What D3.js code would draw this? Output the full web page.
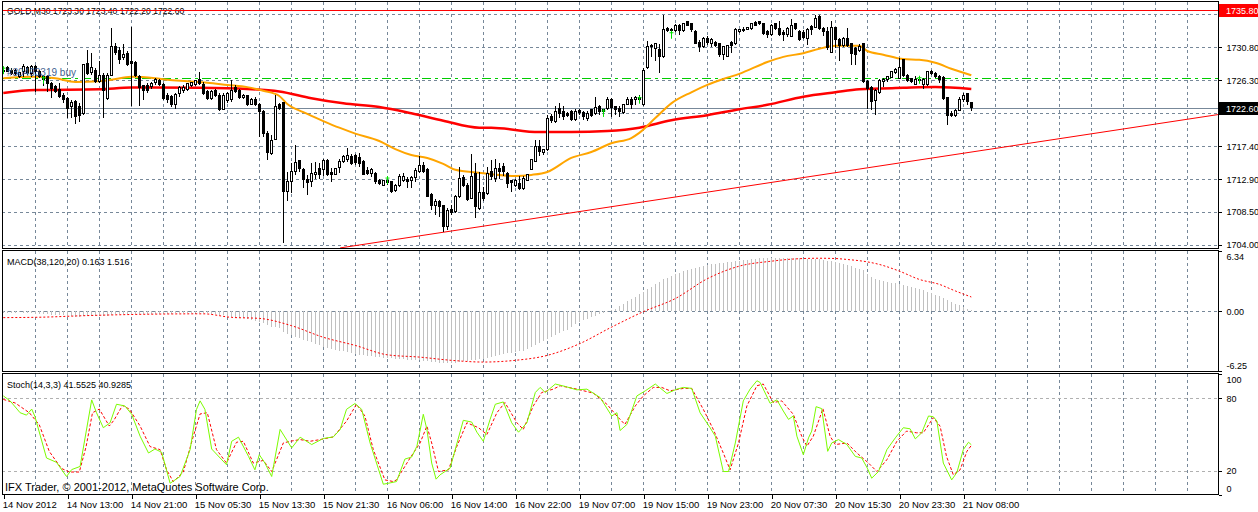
<!DOCTYPE html>
<html>
<meta charset="utf-8">
<style>
  body { margin: 0; background: #fff; }
  svg { display: block; }
  text { font-family: "Liberation Sans", Arial, sans-serif; font-size: 9.5px; fill: #000; }
  .grid { stroke: #778899; stroke-dasharray: 3,3; shape-rendering: crispEdges; }
  .level { stroke: #b0b0b0; stroke-dasharray: 3,3; shape-rendering: crispEdges; }
  .frame { fill: none; stroke: #000; shape-rendering: crispEdges; }
  .axis path.domain { display: none; }
  .axis line { stroke: #000; shape-rendering: crispEdges; }
  .axis text { font-size: 9px; }
</style>

<body>
  <script src="https://d3js.org/d3.v7.min.js"></script>

  <script>
    // ---- data (bar index 0 = 14 Nov 05:00, M30 bars) ----
    let ohlc = [
      [1727.6,1727.9,1727.3,1727.7],[1728.0,1728.2,1727.4,1727.5],[1727.7,1728.0,1727.1,1727.3],[1727.6,1727.9,1727.0,1727.2],
      [1726.9,1727.5,1726.7,1727.4],[1727.5,1728.6,1726.8,1728.2],[1728.0,1728.3,1727.1,1727.3],[1727.3,1728.4,1726.8,1728.2],
      [1728.2,1728.4,1724.8,1727.5],[1727.5,1727.7,1726.6,1726.8],[1726.8,1727.0,1725.6,1726.5],[1726.8,1727.0,1724.8,1725.9],
      [1725.9,1726.1,1723.9,1725.2],[1725.5,1725.7,1724.6,1724.8],[1725.1,1725.9,1723.9,1724.1],[1724.3,1724.6,1723.2,1723.7],
      [1723.9,1724.1,1721.2,1722.5],[1722.8,1723.7,1721.2,1723.3],[1723.4,1723.7,1720.4,1721.4],[1722.8,1723.2,1720.7,1721.6],
      [1721.8,1728.6,1721.6,1728.4],[1728.6,1730.4,1727.0,1727.3],[1727.4,1730.0,1727.0,1728.0],[1727.7,1728.0,1725.9,1726.1],
      [1726.1,1728.9,1725.9,1727.0],[1727.0,1727.3,1721.2,1725.0],[1723.9,1727.3,1723.7,1727.0],[1727.0,1733.4,1726.9,1730.9],
      [1730.9,1731.4,1729.8,1730.1],[1730.4,1730.9,1728.6,1729.2],[1729.4,1731.3,1729.1,1729.8],[1730.0,1730.3,1728.2,1728.4],
      [1728.9,1733.6,1722.8,1728.6],[1728.7,1728.9,1726.8,1727.0],[1726.8,1727.0,1722.8,1725.4],[1725.6,1725.7,1723.7,1725.0],
      [1725.6,1725.9,1724.6,1724.9],[1725.5,1726.1,1725.2,1725.9],[1726.0,1726.6,1725.7,1726.5],[1726.3,1726.5,1725.5,1725.7],
      [1725.7,1725.9,1723.7,1723.9],[1724.3,1724.6,1723.2,1723.7],[1724.1,1724.3,1722.7,1723.0],[1723.1,1724.6,1722.5,1724.4],
      [1724.5,1725.6,1724.1,1725.4],[1725.0,1725.7,1724.6,1725.4],[1725.1,1726.0,1724.9,1725.9],[1725.6,1726.1,1725.4,1726.0],
      [1725.8,1726.4,1725.5,1726.3],[1726.4,1727.5,1725.7,1725.9],[1725.8,1726.1,1724.3,1724.5],[1724.8,1725.0,1723.7,1723.9],
      [1723.9,1725.0,1723.7,1724.8],[1724.9,1725.1,1724.0,1724.2],[1724.3,1724.6,1722.2,1722.4],[1722.4,1724.6,1722.3,1724.3],
      [1723.6,1724.7,1723.3,1724.6],[1723.7,1726.3,1723.4,1725.0],[1725.4,1725.7,1724.6,1724.8],[1725.0,1725.2,1723.8,1724.0],
      [1724.0,1724.5,1723.8,1724.3],[1724.2,1724.3,1722.8,1723.0],[1723.1,1723.9,1723.0,1723.7],[1723.7,1724.0,1722.8,1723.0],
      [1723.0,1723.2,1718.7,1722.1],[1722.1,1722.3,1718.7,1719.1],[1719.1,1719.4,1715.5,1716.5],[1716.4,1718.9,1716.2,1718.2],
      [1718.3,1724.3,1718.2,1722.8],[1723.1,1723.3,1722.3,1722.5],[1723.3,1723.4,1704.3,1711.2],[1711.2,1713.9,1709.9,1712.6],
      [1712.6,1715.1,1711.0,1713.9],[1713.9,1717.6,1713.5,1715.2],[1715.4,1715.5,1713.9,1714.4],[1714.2,1714.4,1711.7,1712.9],
      [1712.9,1713.5,1710.8,1712.45],[1712.6,1715.1,1711.9,1713.7],[1713.5,1715.2,1713.0,1713.8],[1714.3,1715.1,1713.0,1713.5],
      [1714.2,1715.6,1713.3,1715.5],[1715.5,1715.6,1713.3,1713.5],[1713.8,1714.4,1712.6,1713.6],[1713.6,1714.5,1713.5,1714.4],
      [1714.5,1715.7,1713.7,1715.3],[1715.3,1716.2,1715.1,1716.0],[1715.6,1717.1,1715.3,1716.1],[1716.0,1716.4,1714.8,1715.1],
      [1716.1,1716.4,1714.8,1715.2],[1715.9,1716.5,1714.6,1715.1],[1715.3,1715.5,1713.5,1713.6],[1714.1,1714.6,1713.5,1713.7],
      [1713.7,1714.4,1713.2,1714.2],[1713.7,1713.9,1712.3,1712.6],[1712.8,1713.0,1712.1,1712.4],[1712.1,1712.8,1712.0,1712.7],
      [1712.7,1712.9,1712.1,1712.45],[1712.6,1712.7,1711.1,1711.2],[1711.4,1712.3,1711.2,1712.1],[1712.0,1713.6,1711.9,1713.3],
      [1712.8,1713.7,1712.6,1713.35],[1712.9,1713.2,1711.7,1712.6],[1712.8,1713.35,1711.7,1713.2],[1713.2,1714.4,1712.6,1714.1],
      [1713.9,1716.0,1713.7,1714.8],[1714.8,1715.3,1713.7,1713.9],[1714.2,1714.4,1710.55,1710.6],[1710.9,1711.0,1708.7,1709.4],
      [1709.4,1710.3,1708.1,1709.9],[1709.9,1710.1,1707.8,1709.2],[1709.3,1709.4,1705.8,1706.5],[1706.5,1709.0,1706.0,1708.65],
      [1708.8,1709.4,1708.1,1708.4],[1708.5,1710.8,1708.4,1710.6],[1710.55,1714.6,1710.4,1713.0],[1713.1,1713.5,1711.9,1712.0],
      [1712.1,1712.4,1709.9,1710.2],[1710.3,1716.4,1710.2,1713.35],[1713.7,1715.1,1707.6,1709.2],[1709.0,1713.9,1708.8,1711.1],
      [1711.1,1711.9,1709.9,1710.3],[1711.0,1714.6,1710.8,1713.7],[1713.9,1715.5,1712.8,1713.3],[1713.0,1715.6,1712.6,1714.4],
      [1714.4,1715.1,1713.0,1713.9],[1714.6,1715.1,1713.3,1713.9],[1713.7,1713.9,1711.7,1712.4],[1712.8,1712.8,1711.2,1712.45],
      [1712.1,1713.0,1711.9,1712.8],[1712.4,1713.3,1711.5,1711.7],[1711.7,1713.3,1711.5,1713.0],[1712.8,1713.6,1712.8,1713.5],
      [1714.2,1715.7,1714.1,1715.6],[1715.3,1718.2,1715.2,1717.3],[1717.4,1718.2,1716.0,1716.65],[1716.5,1717.0,1716.2,1716.9],
      [1716.9,1721.6,1716.8,1721.2],[1721.4,1721.8,1720.5,1720.85],[1720.7,1722.8,1720.5,1722.1],[1722.5,1723.2,1721.2,1721.8],
      [1722.1,1722.8,1721.0,1721.4],[1721.8,1722.0,1721.4,1721.6],[1722.1,1722.3,1720.85,1721.0],[1721.0,1722.5,1720.85,1722.1],
      [1722.2,1722.5,1721.6,1721.9],[1721.9,1722.1,1720.9,1721.4],[1721.2,1722.1,1720.85,1721.8],[1722.3,1722.5,1721.4,1721.6],
      [1721.8,1724.0,1721.6,1722.7],[1722.8,1723.0,1721.6,1722.1],[1722.1,1722.5,1721.8,1722.3],[1722.5,1724.1,1722.3,1723.7],
      [1723.7,1723.9,1721.4,1722.7],[1722.8,1722.8,1721.6,1722.4],[1722.5,1722.8,1721.4,1722.1],[1721.9,1723.1,1721.8,1723.0],
      [1723.1,1724.1,1723.0,1723.7],[1723.7,1724.0,1722.5,1723.1],[1723.7,1724.2,1723.0,1724.0],[1724.0,1724.3,1723.3,1723.7],
      [1723.0,1728.0,1722.8,1727.7],[1728.0,1731.6,1727.8,1730.9],[1731.1,1731.3,1729.5,1730.9],[1730.7,1731.4,1728.9,1731.3],
      [1730.5,1731.3,1727.3,1729.5],[1729.5,1735.2,1729.3,1733.2],[1733.4,1733.6,1732.9,1733.1],[1733.1,1733.4,1732.8,1733.2],
      [1733.1,1734.0,1732.9,1733.8],[1733.8,1734.0,1732.5,1733.1],[1733.1,1734.1,1732.9,1734.05],[1734.3,1734.4,1733.7,1733.8],
      [1734.05,1734.1,1732.9,1733.15],[1732.9,1733.15,1731.2,1731.3],[1731.4,1731.8,1730.2,1730.9],[1730.9,1732.2,1730.7,1732.0],
      [1732.0,1732.3,1731.1,1731.4],[1731.25,1732.0,1730.9,1731.8],[1731.4,1731.6,1730.9,1731.1],[1731.3,1731.4,1729.5,1729.8],
      [1729.8,1731.0,1729.1,1730.9],[1729.6,1731.1,1729.5,1731.0],[1731.4,1731.6,1730.0,1731.1],[1731.3,1733.4,1731.1,1733.15],
      [1732.9,1733.3,1732.7,1733.2],[1733.2,1733.5,1732.9,1733.1],[1733.15,1733.6,1733.1,1733.5],[1733.4,1734.1,1733.15,1734.05],
      [1734.1,1734.4,1733.7,1733.8],[1734.3,1734.4,1733.8,1734.05],[1734.0,1734.05,1732.5,1732.7],[1732.9,1733.15,1732.0,1732.5],
      [1732.5,1734.0,1732.3,1733.8],[1734.0,1734.05,1733.15,1733.4],[1733.4,1734.3,1732.3,1732.5],[1732.8,1733.1,1731.6,1732.5],
      [1732.6,1733.6,1732.2,1733.4],[1732.2,1734.7,1732.15,1733.8],[1734.0,1734.05,1733.15,1733.4],[1732.9,1733.1,1731.6,1731.9],
      [1732.8,1733.1,1731.9,1732.15],[1732.0,1733.4,1731.1,1733.2],[1733.6,1733.8,1732.5,1733.2],[1733.5,1735.2,1733.4,1734.7],
      [1734.95,1735.2,1733.15,1733.4],[1733.4,1733.6,1732.3,1732.9],[1732.9,1733.6,1730.4,1730.8],[1730.1,1734.3,1730.0,1733.5],
      [1733.5,1733.6,1730.7,1731.9],[1731.8,1732.0,1728.9,1731.1],[1731.1,1732.15,1730.9,1732.0],[1732.0,1733.4,1730.9,1731.1],
      [1731.25,1731.4,1728.4,1730.0],[1730.7,1730.9,1728.4,1729.8],[1730.4,1731.3,1730.2,1730.9],[1731.25,1731.4,1726.0,1726.1],
      [1726.1,1726.4,1722.5,1725.2],[1725.4,1725.6,1722.3,1723.4],[1723.6,1725.2,1721.6,1725.0],[1724.65,1726.5,1724.5,1726.3],
      [1726.1,1726.6,1725.4,1726.5],[1726.4,1726.9,1726.1,1726.8],[1726.7,1727.6,1726.6,1727.5],[1727.4,1728.0,1727.2,1727.8],
      [1726.6,1729.4,1726.5,1728.0],[1729.1,1729.2,1726.8,1727.0],[1727.0,1727.2,1726.1,1726.3],[1726.6,1726.7,1725.9,1726.1],
      [1725.8,1726.9,1725.7,1726.5],[1726.5,1726.8,1725.9,1726.3],[1725.8,1726.6,1725.1,1726.5],[1725.7,1727.6,1725.6,1727.5],
      [1727.5,1727.7,1727.0,1727.2],[1727.3,1727.5,1726.7,1726.9],[1726.9,1727.0,1725.9,1726.5],[1726.7,1726.9,1723.7,1723.9],
      [1724.0,1724.1,1720.3,1721.6],[1721.8,1722.1,1721.3,1721.6],[1721.6,1722.4,1721.4,1722.2],[1722.2,1724.1,1722.1,1723.7],
      [1723.7,1724.65,1723.4,1724.3],[1724.5,1724.6,1723.0,1723.4],[1723.3,1723.4,1722.2,1722.6]
    ];

    // moving averages: [bar, price]
    let maFast = [[0,1726.6],[7.5,1726.8],[13,1726.6],[18,1726.1],[24,1726.2],[27,1726.4],[32,1726.8],[38,1726.6],[41,1726.4],
      [46,1726.2],[51,1726.0],[56,1725.7],[61,1725.4],[65,1724.9],[69,1724.2],[71,1723.1],[75,1722.0],[80,1720.8],[84,1719.9],
      [88,1719.1],[94,1718.1],[98,1717.0],[102,1716.2],[106,1715.8],[110,1715.0],[113,1714.2],[119,1713.8],[122,1713.6],
      [128,1713.35],[132,1713.5],[136,1713.9],[142,1715.8],[147,1716.6],[152,1717.8],[157,1718.5],[159,1719.2],[163,1721.2],
      [167,1723.2],[172,1724.7],[176,1725.7],[180,1726.5],[184,1727.2],[191,1728.8],[195,1729.5],[200,1730.0],[204,1730.6],
      [208,1731.0],[214,1731.0],[216,1730.3],[220,1729.8],[225,1729.2],[229,1729.1],[233,1728.7],[237,1727.9],[242,1727.0]];
    let maSlow = [[0,1724.6],[8,1725.0],[24,1725.1],[32,1725.35],[49,1725.3],[61,1725.15],[69,1724.8],[77,1723.9],[85,1723.2],
      [94,1722.7],[102,1721.85],[110,1720.85],[119,1719.9],[122,1719.9],[134,1719.3],[142,1719.3],[151,1719.45],[159,1719.9],
      [167,1720.9],[176,1721.6],[184,1722.4],[191,1723.0],[200,1724.1],[208,1724.7],[214,1725.1],[225,1725.3],[233,1725.4],[242,1725.15]];

    // MACD(38,120,20): main value per bar (histogram) and signal line points
    let macdMain = [
      -0.15,-0.2,-0.2,-0.15,-0.1,-0.15,-0.2,-0.2,-0.25,-0.25,
      -0.3,-0.3,-0.35,-0.35,-0.4,-0.4,-0.45,-0.5,-0.55,-0.55,
      -0.5,-0.45,-0.45,-0.5,-0.5,-0.5,-0.45,-0.35,-0.3,-0.3,
      -0.3,-0.3,-0.25,-0.25,-0.3,-0.3,-0.3,-0.3,-0.25,-0.25,
      -0.25,-0.25,-0.25,-0.2,-0.2,-0.2,-0.15,-0.15,-0.15,-0.15,
      -0.2,-0.2,-0.25,-0.3,-0.35,-0.4,-0.45,-0.55,-0.6,-0.65,
      -0.7,-0.8,-0.9,-1.0,-1.1,-1.25,-1.45,-1.6,-1.65,-1.75,
      -2.2,-2.35,-2.5,-2.65,-2.8,-2.95,-3.1,-3.25,-3.4,-3.55,
      -3.7,-3.8,-3.9,-4.0,-4.1,-4.2,-4.3,-4.4,-4.5,-4.55,
      -4.6,-4.65,-4.7,-4.75,-4.8,-4.85,-4.9,-4.9,-4.95,-5.0,
      -5.0,-5.05,-5.05,-5.1,-5.1,-5.15,-5.25,-5.3,-5.35,-5.4,
      -5.45,-5.45,-5.45,-5.4,-5.3,-5.25,-5.2,-5.1,-5.05,-5.0,
      -4.95,-4.9,-4.8,-4.7,-4.6,-4.5,-4.4,-4.35,-4.3,-4.2,
      -4.1,-3.95,-3.75,-3.5,-3.3,-3.1,-2.9,-2.7,-2.5,-2.3,
      -2.1,-1.9,-1.65,-1.35,-1.1,-0.9,-0.75,-0.6,-0.45,-0.3,
      -0.15,-0.05,0.1,0.3,0.55,0.8,1.05,1.3,1.55,1.8,
      2.05,2.35,2.6,2.85,3.1,3.35,3.55,3.75,3.9,4.05,
      4.2,4.3,4.45,4.55,4.65,4.75,4.85,4.95,5.0,5.05,
      5.1,5.15,5.2,5.25,5.3,5.35,5.4,5.45,5.55,5.6,
      5.6,5.6,5.62,5.62,5.65,5.65,5.65,5.62,5.6,5.6,
      5.55,5.55,5.5,5.5,5.45,5.4,5.3,5.25,5.15,5.1,
      5.0,4.9,4.75,4.6,4.45,4.3,3.9,3.6,3.4,3.3,
      3.2,3.1,3.0,2.95,2.85,2.75,2.65,2.55,2.45,2.35,
      2.2,2.05,1.9,1.75,1.6,1.4,1.2,1.0,0.8,0.65,
      0.45,0.3,0.163];
    let macdSignal = [[0,-0.65],[10,-0.6],[20,-0.45],[35,-0.3],[50,-0.25],[57,-0.62],[64,-0.73],[72,-1.49],[80,-2.71],
      [88,-3.57],[96,-4.55],[104,-4.79],[112,-5.13],[120,-5.31],[128,-5.13],[136,-4.61],[144,-3.4],[152,-1.66],[160,-0.03],
      [168,1.35],[176,3.43],[184,4.75],[192,5.27],[198,5.51],[204,5.58],[208,5.55],[211,5.45],[216,5.2],[219,4.93],
      [224,4.23],[229,3.36],[234,2.84],[238,2.15],[242,1.516]];

    // Stochastic(14,3,3): [bar, value]
    let stochMain = [[0,81.9],[1.7,77.8],[4.2,68],[5.8,66],[7.1,71],[7.9,65],[10.8,30.6],[13.3,27],[15.8,15.3],[17.1,21],
      [19.2,23.6],[22.1,78.6],[23.3,68],[25,55.6],[26.7,59.7],[28.3,75],[30.4,73.6],[32.1,66.7],[34.2,48.6],[36.3,34.7],
      [37.9,38],[39.6,35.3],[41.7,9.7],[44.2,15.3],[46.7,37.5],[48.3,70.8],[49.2,77.8],[50.4,70.8],[52.1,38],[55.8,25],
      [57.1,44.4],[58.8,47.8],[61.3,31.9],[62.9,20.8],[64,33.3],[65.4,26.4],[67.1,15.3],[69.2,54.2],[72.1,38.9],[74.2,47.8],
      [77.1,41.7],[80,46.7],[82.5,48],[84.2,54],[85.8,70.8],[87.9,75.6],[89.6,70.8],[91.7,43],[95,8.9],[96.7,10],[98.3,11.1],
      [100.4,29.7],[102.1,31.4],[103.4,40.3],[105,66.7],[105.9,54.2],[107.1,26.4],[108.2,13.1],[109.2,16.7],[111.7,22.2],
      [115,61.7],[117.1,60.3],[118.4,51.9],[120,44.4],[121.7,62.5],[123,75],[125,76.9],[127.1,59.7],[128.8,51.9],[130.9,59.7],
      [133,84.7],[134.2,88.9],[135.5,84.7],[138,91.7],[140.5,89.7],[143.4,86.9],[145.9,87.5],[149.2,80.6],[152.1,65.3],
      [153.4,68],[154.2,53.3],[155.9,58.3],[158.4,81.9],[160.5,86.1],[163,91.7],[165.9,83.9],[168.4,87.5],[170,88.9],
      [172.1,88.1],[174.2,68],[176.7,55.6],[178,48.6],[180,19.4],[181.3,19.4],[183,43],[185,77.8],[186.7,87.5],[188.4,94.4],
      [189.2,93],[191.7,75.8],[193.4,78.6],[195,69.4],[196.3,62.5],[197.5,65.3],[198.4,48.6],[200,33.3],[201.3,47.2],
      [202.1,52.8],[203.2,73],[204.6,71.4],[206.1,36.1],[207.1,43],[208.8,45.8],[210.9,41.7],[213,31.9],[214.6,30.6],
      [216,22.2],[217.1,13.9],[218.8,19.4],[220.9,37.5],[223,47.2],[225,55.6],[226.7,54.7],[228,46.4],[229.6,51.4],
      [231.3,65.3],[232.5,64.7],[233.4,61.1],[235,26.4],[237.1,12.5],[238.4,18.6],[240,37.5],[241.3,43.6],[242,41.55]];
    let stochSignal = [[0,79],[3,76],[6.5,68],[9,58],[11.5,36],[14.5,22],[16.5,19],[19,19],[20.7,40],[22.3,68],[24,71],
      [26.5,57],[27.7,62],[29.8,74],[31.5,71],[34.2,57],[36.7,40],[39.2,37.5],[40.8,21],[42.5,11],[45,19],[47.5,48.6],
      [49.2,67],[51,68],[53.3,37.5],[55.8,26.4],[58.3,43.6],[60,44.4],[62.5,26.4],[65,28.6],[67.1,19.4],[70,43],[71.7,44.4],
      [74.2,45.8],[76.7,44.4],[79.2,45.8],[82.5,48],[85.8,61],[88.3,75],[90.4,65.3],[92.5,37.5],[95.4,12.5],[97.5,11.1],
      [98.3,12.5],[101.7,30.6],[104.2,43],[105.9,57],[107.1,43],[108.8,19.4],[111.3,20.8],[113.4,40.3],[115.9,59.7],
      [118.8,55.6],[120.9,50],[123.4,68],[125.4,76.4],[128.4,59.7],[130,54.2],[132.5,73.6],[134.6,84.7],[137.5,87.5],
      [139.2,90.3],[143.4,87.5],[147.5,84.2],[150.9,75],[153.4,65.3],[155.4,58.3],[158,73.6],[160,81.9],[162.5,88.9],
      [164.6,88.9],[166.7,86.1],[170,88.1],[172.1,88.1],[175,70.8],[177.5,54.2],[180,34.7],[181.7,20.8],[183.8,43],
      [185.9,73.6],[188.4,90.3],[190,91.7],[192.5,76.4],[194.6,77.8],[197.5,66.7],[199.6,48.6],[200.9,40.3],[202.5,48.6],
      [204.9,71.4],[206.7,48.6],[208,41.7],[210.9,43],[213.4,34.7],[216.3,26.4],[218.4,19.4],[220.9,29.2],[223.4,44.4],
      [225.8,52.8],[228.3,51.4],[230,51.4],[232.5,63.9],[234.2,56.9],[235.8,31.9],[237.5,16.7],[239.2,20.8],[240.9,36.1],[242,40.93]];

    // objects on the price chart
    let resistancePrice = 1735.80;
    let orderPrice = 1726.55;
    let bidPrice = 1722.60;
    let trendLine = [[84.2, 1703.6], [303.7, 1721.68]];
    let tradeMarks = [[0,1727.7],[10,1726.4],[96,1712.8],[150,1721.9],[159,1723.7],[167,1732.5],[229,1726.4]];

    // axes
    let priceTicks = [1704.00, 1708.50, 1712.90, 1717.40, 1721.90, 1726.30, 1730.80, 1735.30];
    let hiddenPriceTicks = [1721.90, 1735.30]; // covered by the bid and line price boxes
    let macdTicks = [6.34, 0, -6.25];
    let stochTicks = [100, 80, 20, 0];
    let stochLevels = [80, 20];
    let timeBars = [0,16,32,48,64,80,96,112,128,144,160,176,192,208,224,240];
    let timeLabels = ["14 Nov 2012","14 Nov 13:00","14 Nov 21:00","15 Nov 05:30","15 Nov 13:30","15 Nov 21:30",
      "16 Nov 06:00","16 Nov 14:00","16 Nov 22:00","19 Nov 07:00","19 Nov 15:00","19 Nov 23:00",
      "20 Nov 07:30","20 Nov 15:30","20 Nov 23:30","21 Nov 08:00"];

    // ---- layout ----
    let width = 1258, height = 512;
    let left = 2, right = 1218;
    let mainTop = 2, mainBottom = 248;
    let macdTop = 251, macdBottom = 371;
    let stochTop = 374, stochBottom = 494;

    let svg = d3.select("body").append("svg")
      .attr("width", width)
      .attr("height", height);

    let x = d3.scaleLinear().domain([0, 242]).range([3.3, 971.3]);
    let yMain = d3.scaleLinear().domain([1703.59, 1736.94]).range([mainBottom, mainTop]);
    let yMacd = d3.scaleLinear().domain([-6.25, 6.34]).range([macdBottom, macdTop]);
    let yStoch = d3.scaleLinear().domain([0, 100]).range([stochBottom + 1, stochTop]);

    let px = i => Math.round(x(i)) + 0.5;

    let defs = svg.append("defs");
    function clip(id, top, bottom) {
      defs.append("clipPath").attr("id", id)
        .append("rect").attr("x", left).attr("y", top).attr("width", right - left).attr("height", bottom - top);
    }
    clip("cMain", mainTop, mainBottom);
    clip("cMacd", macdTop, macdBottom);
    clip("cStoch", stochTop, stochBottom);

    function drawGrid() {
      let gridBars = d3.range(8, 300, 8).filter(i => x(i) < right - 2);
      [[mainTop, mainBottom], [macdTop, macdBottom], [stochTop, stochBottom]].forEach(p => {
        svg.append("g").selectAll("line").data(gridBars).join("line")
          .attr("class", "grid")
          .attr("x1", d => px(d)).attr("x2", d => px(d))
          .attr("y1", p[0]).attr("y2", p[1]);
      });
      svg.append("g").selectAll("line").data(priceTicks).join("line")
        .attr("class", "grid")
        .attr("x1", left).attr("x2", right)
        .attr("y1", d => Math.round(yMain(d)) + 0.5).attr("y2", d => Math.round(yMain(d)) + 0.5);
      svg.append("line").attr("class", "grid")
        .attr("x1", left).attr("x2", right)
        .attr("y1", Math.round(yMacd(0)) + 0.5).attr("y2", Math.round(yMacd(0)) + 0.5);
      svg.append("g").selectAll("line").data(stochLevels).join("line")
        .attr("class", "level")
        .attr("x1", left).attr("x2", right)
        .attr("y1", d => Math.round(yStoch(d)) + 0.5).attr("y2", d => Math.round(yStoch(d)) + 0.5);
    }

    function drawMain() {
      let g = svg.append("g").attr("clip-path", "url(#cMain)");

      // order line (pending buy) and bid line
      g.append("line")
        .attr("x1", left).attr("x2", right)
        .attr("y1", Math.round(yMain(orderPrice)) - 0.5).attr("y2", Math.round(yMain(orderPrice)) - 0.5)
        .attr("stroke", "#00cc00").attr("stroke-dasharray", "9,4,3,4")
        .style("shape-rendering", "crispEdges");
      g.append("line")
        .attr("x1", left).attr("x2", right)
        .attr("y1", Math.round(yMain(bidPrice)) + 0.5).attr("y2", Math.round(yMain(bidPrice)) + 0.5)
        .attr("stroke", "#778899").style("shape-rendering", "crispEdges");

      // trend line
      g.append("line")
        .attr("x1", x(trendLine[0][0])).attr("y1", yMain(trendLine[0][1]))
        .attr("x2", x(trendLine[1][0])).attr("y2", yMain(trendLine[1][1]))
        .attr("stroke", "#ff0000").attr("stroke-width", 1);

      // moving averages
      let line = d3.line().x(d => x(d[0])).y(d => yMain(d[1])).curve(d3.curveMonotoneX);
      g.append("path").datum(maSlow).attr("d", line)
        .attr("fill", "none").attr("stroke", "#ff0000").attr("stroke-width", 2.5);
      g.append("path").datum(maFast).attr("d", line)
        .attr("fill", "none").attr("stroke", "#ffa500").attr("stroke-width", 2);

      // candles
      let c = g.append("g").style("shape-rendering", "crispEdges");
      c.selectAll(".wick").data(ohlc).join("line")
        .attr("class", "wick")
        .attr("x1", (d, i) => px(i)).attr("x2", (d, i) => px(i))
        .attr("y1", d => yMain(d[1])).attr("y2", d => yMain(d[2]))
        .attr("stroke", "#000");
      c.selectAll(".body").data(ohlc).join("rect")
        .attr("class", "body")
        .attr("x", (d, i) => px(i) - 1)
        .attr("width", 2)
        .attr("y", d => yMain(Math.max(d[0], d[3])))
        .attr("height", d => Math.max(1, Math.abs(yMain(d[0]) - yMain(d[3]))))
        .attr("fill", d => d[3] >= d[0] ? "#fff" : "#000")
        .attr("stroke", "#000");

      // trade arrows
      let m = g.append("g").attr("stroke", "#00e000");
      m.selectAll(".mv").data(tradeMarks).join("line")
        .attr("x1", d => px(d[0])).attr("x2", d => px(d[0]))
        .attr("y1", d => yMain(d[1]) - 4).attr("y2", d => yMain(d[1]) + 4);
      m.selectAll(".mh").data(tradeMarks).join("line")
        .attr("x1", d => px(d[0]) - 2).attr("x2", d => px(d[0]) + 2)
        .attr("y1", d => yMain(d[1]) - 2).attr("y2", d => yMain(d[1]) - 2);

      g.append("text").attr("x", 7).attr("y", 75.5)
        .style("fill", "#3f5f8f").style("font-size", "10px")
        .text("#30493319 buy");

      svg.append("text").attr("x", 7).attr("y", 13.5).style("font-size", "8.6px")
        .text("GOLD,M30  1723.30 1723.40 1722.20 1722.60");

      // line on the high, drawn over the header
      svg.append("line")
        .attr("x1", left).attr("x2", right)
        .attr("y1", Math.round(yMain(resistancePrice)) + 0.5).attr("y2", Math.round(yMain(resistancePrice)) + 0.5)
        .attr("stroke", "#ff0000").style("shape-rendering", "crispEdges");
    }

    function drawMacd() {
      let g = svg.append("g").attr("clip-path", "url(#cMacd)");
      g.append("g").style("shape-rendering", "crispEdges")
        .selectAll("line").data(macdMain).join("line")
        .attr("x1", (d, i) => px(i)).attr("x2", (d, i) => px(i))
        .attr("y1", yMacd(0)).attr("y2", d => yMacd(d))
        .attr("stroke", "#c0c0c0");
      let line = d3.line().x(d => x(d[0])).y(d => yMacd(d[1])).curve(d3.curveMonotoneX);
      g.append("path").datum(macdSignal).attr("d", line)
        .attr("fill", "none").attr("stroke", "#ff0000").attr("stroke-dasharray", "2,2");
      svg.append("text").attr("x", 7).attr("y", 265).style("font-size", "9px")
        .text("MACD(38,120,20) 0.163 1.516");
    }

    function drawStoch() {
      let g = svg.append("g").attr("clip-path", "url(#cStoch)");
      let line = d3.line().x(d => x(d[0])).y(d => yStoch(d[1]));
      g.append("path").datum(stochSignal).attr("d", line)
        .attr("fill", "none").attr("stroke", "#ff0000").attr("stroke-dasharray", "3,2");
      g.append("path").datum(stochMain).attr("d", line)
        .attr("fill", "none").attr("stroke", "#7cfc00");
      svg.append("text").attr("x", 7).attr("y", 388).style("font-size", "9px")
        .text("Stoch(14,3,3) 41.5525 40.9285");
      svg.append("text").attr("x", 5).attr("y", 491).style("font-size", "11px")
        .text("IFX Trader, \u00a9 2001-2012, MetaQuotes Software Corp.");
    }

    function drawFrames() {
      [[mainTop, mainBottom], [macdTop, macdBottom], [stochTop, stochBottom]].forEach(p => {
        svg.append("rect").attr("class", "frame")
          .attr("x", left + 0.5).attr("y", p[0] - 0.5)
          .attr("width", right - left).attr("height", p[1] - p[0] + 1);
      });
    }

    function drawAxes() {
      svg.append("g").attr("class", "axis")
        .attr("transform", `translate(${right + 0.5},0)`)
        .call(d3.axisRight(yMain).tickValues(priceTicks)
          .tickFormat(d => hiddenPriceTicks.includes(d) ? "" : d.toFixed(2))
          .tickSize(3).tickPadding(5));

      let ma = svg.append("g").attr("class", "axis")
        .attr("transform", `translate(${right + 0.5},0)`)
        .call(d3.axisRight(yMacd).tickValues(macdTicks).tickFormat(d => d.toFixed(2)).tickSize(3).tickPadding(5));
      ma.selectAll("text").attr("dy", d => d > 0 ? "0.95em" : d < 0 ? "-0.3em" : "0.32em");

      let sa = svg.append("g").attr("class", "axis")
        .attr("transform", `translate(${right + 0.5},0)`)
        .call(d3.axisRight(yStoch).tickValues(stochTicks).tickSize(3).tickPadding(5));
      sa.selectAll("text").attr("dy", d => d == 100 ? "0.95em" : d == 0 ? "-0.4em" : "0.32em");

      let ta = svg.append("g").attr("class", "axis")
        .attr("transform", `translate(0,${stochBottom + 0.5})`)
        .call(d3.axisBottom(x).tickValues(timeBars).tickFormat((d, k) => timeLabels[k]).tickSize(4).tickPadding(3));
      ta.selectAll(".tick line").attr("transform", "translate(0.5,0)");
      ta.selectAll("text").attr("text-anchor", "start").attr("x", -1).style("font-size", "9.5px");

      // price boxes for the line on the high and for the bid
      [[resistancePrice, "#ff0000"], [bidPrice, "#000"]].forEach(p => {
        let yy = Math.round(yMain(p[0]));
        svg.append("rect").attr("x", right + 1).attr("y", yy - 6).attr("width", width - right).attr("height", 13)
          .attr("fill", p[1]);
        svg.append("text").attr("x", right + 8).attr("y", yy + 4).style("font-size", "9px").style("fill", "#fff")
          .text(p[0].toFixed(2));
      });
    }

    drawGrid();
    drawMain();
    drawMacd();
    drawStoch();
    drawFrames();
    drawAxes();
  </script>
</body>

</html>
